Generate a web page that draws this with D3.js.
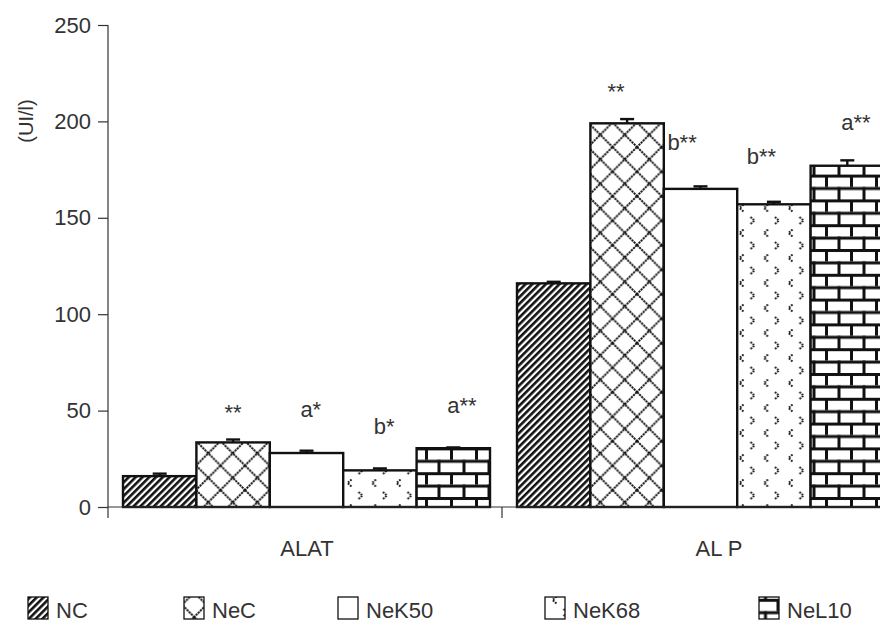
<!DOCTYPE html>
<html>
<head>
<meta charset="utf-8">
<script src="https://cdn.jsdelivr.net/npm/d3@7/dist/d3.min.js"></script>
<style>
  body { margin: 0; background: #fff; }
  svg text { font-family: "Liberation Sans", Arial, sans-serif; fill: #333; }
</style>
</head>
<body>
<svg id="chart" width="880" height="632"></svg>
<script>
// Serum enzyme activities (UI/l) per treatment group
const groups = ["ALAT", "AL P"];
const seriesNames = ["NC", "NeC", "NeK50", "NeK68", "NeL10"];
const alatValues = [16, 33.5, 28, 19, 30.5];
const alatErrors = [1.3, 1.5, 1.2, 1.0, 0.4];
const alpValues = [116, 199, 165, 157, 177];
const alpErrors = [0.8, 2.2, 1.3, 1.3, 2.8];
const alatMarks = ["", "**", "a*", "b*", "a**"];
const alpMarks = ["", "**", "b**", "b**", "a**"];
const yTicks = [0, 50, 100, 150, 200, 250];
const yLabel = "(UI/l)";

const table = [
  { group: groups[0], values: alatValues, errors: alatErrors, marks: alatMarks },
  { group: groups[1], values: alpValues, errors: alpErrors, marks: alpMarks }
];

// hand nudges for the significance letters [dx, dy]
const markNudge = {
  "ALAT|NeC": [0, 14],
  "AL P|NeC": [-11, 14],
  "AL P|NeK50": [-27, -2],
  "AL P|NeK68": [-21, -4],
  "AL P|NeL10": [0, 4]
};
// horizontal nudge of the category captions
const captionNudge = { "ALAT": 2, "AL P": 20 };

const svg = d3.select("#chart");
const ink = "#111";

const y = d3.scaleLinear().domain([0, 250]).range([507, 25]);
const x0 = d3.scaleBand().domain(groups).range([108, 896]);
const x1 = d3.scaleBand().domain(seriesNames).range([15, 382]);

// ---------- fill patterns ----------
const defs = svg.append("defs");

// one set of tiles per id suffix; shifts place the tile origin per series
function buildPatterns(suffix, shifts) {
  const tr = s => `translate(${shifts[s][0]},${shifts[s][1]})`;

  const hatch = defs.append("pattern").attr("id", "pat-NC" + suffix)
    .attr("patternUnits", "userSpaceOnUse").attr("width", 4.8).attr("height", 4.8)
    .attr("patternTransform", `${tr("NC")} rotate(45)`);
  hatch.append("rect").attr("width", 4.8).attr("height", 4.8).attr("fill", "#fff");
  hatch.append("rect").attr("width", 2.6).attr("height", 4.8).attr("fill", ink);

  const diamond = defs.append("pattern").attr("id", "pat-NeC" + suffix)
    .attr("patternUnits", "userSpaceOnUse").attr("width", 24.5).attr("height", 24.5)
    .attr("patternTransform", tr("NeC"));
  diamond.append("rect").attr("width", 24.5).attr("height", 24.5).attr("fill", "#fff");
  diamond.append("path").attr("d", "M-2,-2L26.5,26.5M26.5,-2L-2,26.5")
    .attr("stroke", "#111").attr("stroke-width", 1.9).attr("stroke-dasharray", "2.2,0.8").attr("fill", "none");

  const blank = defs.append("pattern").attr("id", "pat-NeK50" + suffix)
    .attr("patternUnits", "userSpaceOnUse").attr("width", 10).attr("height", 10);
  blank.append("rect").attr("width", 10).attr("height", 10).attr("fill", "#fff");

  const chev = defs.append("pattern").attr("id", "pat-NeK68" + suffix)
    .attr("patternUnits", "userSpaceOnUse").attr("width", 24.5).attr("height", 25)
    .attr("patternTransform", tr("NeK68"));
  chev.append("rect").attr("width", 24.5).attr("height", 25).attr("fill", "#fff");
  chev.append("path").attr("d", "M6.5,0.5L2.5,4L6.5,7.5")
    .attr("stroke", "#1a1a1a").attr("stroke-width", 2).attr("stroke-dasharray", "1.8,1.1").attr("fill", "none");
  chev.append("path").attr("d", "M13.5,13L17.5,16.5L13.5,20")
    .attr("stroke", "#1a1a1a").attr("stroke-width", 2).attr("stroke-dasharray", "1.8,1.1").attr("fill", "none");

  const brick = defs.append("pattern").attr("id", "pat-NeL10" + suffix)
    .attr("patternUnits", "userSpaceOnUse").attr("width", 25).attr("height", 24.8)
    .attr("patternTransform", tr("NeL10"));
  brick.append("rect").attr("width", 25).attr("height", 24.8).attr("fill", "#fff");
  brick.append("rect").attr("x", 0).attr("y", 0).attr("width", 25).attr("height", 3).attr("fill", ink);
  brick.append("rect").attr("x", 0).attr("y", 12.4).attr("width", 25).attr("height", 3).attr("fill", ink);
  brick.append("rect").attr("x", 0).attr("y", 0).attr("width", 3).attr("height", 12.4).attr("fill", ink);
  brick.append("rect").attr("x", 12.5).attr("y", 12.4).attr("width", 3).attr("height", 12.4).attr("fill", ink);
}
const barShift = { NC: [0, 0], NeC: [0, 0], NeK68: [2, 4], NeL10: [0, 1] };
buildPatterns("", barShift);

// ---------- bars ----------
const cells = table.flatMap(d => seriesNames.map((s, i) => ({
  group: d.group, series: s, value: d.values[i], error: d.errors[i], mark: d.marks[i]
})));

const barG = svg.append("g");
barG.selectAll("rect.bar").data(cells).join("rect")
  .attr("class", "bar")
  .attr("x", d => x0(d.group) + x1(d.series))
  .attr("y", d => y(d.value))
  .attr("width", x1.bandwidth())
  .attr("height", d => y(0) - y(d.value))
  .attr("fill", d => `url(#pat-${d.series})`)
  .attr("stroke", ink)
  .attr("stroke-width", 2.4);

// error bars
const cx = d => x0(d.group) + x1(d.series) + x1.bandwidth() / 2;
const errG = svg.append("g").attr("stroke", ink).attr("stroke-width", 2.4);
errG.selectAll("line.stem").data(cells).join("line")
  .attr("x1", cx).attr("x2", cx)
  .attr("y1", d => y(d.value)).attr("y2", d => y(d.value + d.error));
errG.selectAll("line.cap").data(cells).join("line")
  .attr("x1", d => cx(d) - 7).attr("x2", d => cx(d) + 7)
  .attr("y1", d => y(d.value + d.error)).attr("y2", d => y(d.value + d.error));

// significance marks
const markG = svg.append("g");
cells.filter(d => d.mark).forEach(d => {
  const nudge = markNudge[`${d.group}|${d.series}`] || [0, 0];
  const base = y(d.value + d.error) - 34 + nudge[1];
  const t = markG.append("text").attr("font-size", 22).attr("y", base).text(d.mark);
  const letter = d.mark.replace(/\*/g, "");
  let lw;
  if (letter) {
    const probe = markG.append("text").attr("font-size", 22).text(letter);
    lw = probe.node().getComputedTextLength();
    probe.remove();
  } else {
    lw = t.node().getComputedTextLength();
  }
  t.attr("x", cx(d) - lw / 2 + nudge[0]);
});

// ---------- axes ----------
const yAxis = svg.append("g").attr("transform", "translate(108,0)")
  .call(d3.axisLeft(y).tickValues(yTicks).tickSize(10).tickPadding(7).tickSizeOuter(0));
yAxis.select(".domain").remove();
yAxis.selectAll(".tick line").attr("stroke", "#333").attr("stroke-width", 1.2);
yAxis.selectAll(".tick text").attr("font-size", 22).attr("fill", "#333")
  .style("font-family", "'Liberation Sans', Arial, sans-serif");
svg.append("line").attr("x1", 108).attr("x2", 108).attr("y1", y(250)).attr("y2", 518)
  .attr("stroke", "#333").attr("stroke-width", 1.2);

// baseline with group boundary ticks
svg.append("line").attr("x1", 108).attr("x2", 880).attr("y1", y(0)).attr("y2", y(0))
  .attr("stroke", "#333").attr("stroke-width", 1.2);
svg.append("g").selectAll("line").data(groups.slice(1)).join("line")
  .attr("x1", d => x0(d)).attr("x2", d => x0(d))
  .attr("y1", y(0)).attr("y2", 518)
  .attr("stroke", "#333").attr("stroke-width", 1.2);

svg.append("g").selectAll("text").data(groups).join("text")
  .attr("x", d => x0(d) + x0.bandwidth() / 2 + (captionNudge[d] || 0))
  .attr("y", 556)
  .attr("text-anchor", "middle")
  .attr("font-size", 22)
  .text(d => d);

svg.append("text")
  .attr("transform", "translate(33,121) rotate(-90)")
  .attr("text-anchor", "middle")
  .attr("font-size", 20)
  .text(yLabel);

// ---------- legend ----------
const legendX = [28, 184, 338, 545, 759];
const legendY = 597;
legendX.forEach((lx, i) => buildPatterns("-key" + i, {
  NC: [lx, legendY],
  NeC: [lx + 10 - 12.25, legendY + 11],
  NeK68: [lx - 1, legendY + 2],
  NeL10: [lx + 8.5, legendY]
}));
const legend = svg.append("g").selectAll("g").data(seriesNames).join("g")
  .attr("transform", (d, i) => `translate(${legendX[i]},${legendY})`);
legend.append("rect").attr("width", 20).attr("height", 22)
  .attr("fill", (d, i) => `url(#pat-${d}-key${i})`)
  .attr("stroke", ink).attr("stroke-width", 1.3);
legend.append("text").attr("x", 28).attr("y", 21).attr("font-size", 22).text(d => d);
</script>
</body>
</html>
